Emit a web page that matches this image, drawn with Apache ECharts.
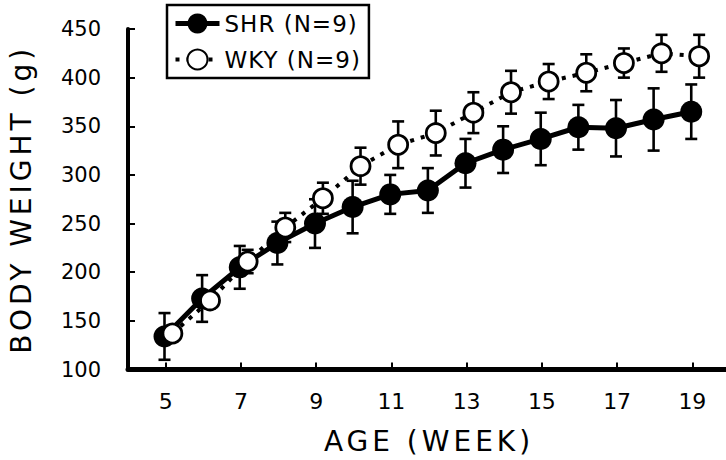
<!DOCTYPE html>
<html><head><meta charset="utf-8">
<script src="https://cdn.jsdelivr.net/npm/echarts@6/dist/echarts.min.js"></script>
<style>html,body{margin:0;padding:0;background:#fff}#c{width:726px;height:460px}</style>
</head><body><div id="c"></div>
<script>
// ---- data ----
const weeks   = [5,6,7,8,9,10,11,12,13,14,15,16,17,18,19];
const shrMean = [134,173,205,230,250,267,280,284,312,326,337,349,348,357,365];
const shrSD   = [24,24,22,22,25,27,20,23,25,24,27,23,29,32,28];
const wkyMean = [137,171,211,246,276,309,331,343,364,385,396,405,415,425,422];
const wkySD   = [8,8,12,15,16,19,24,23,21,22,18,19,15,19,22];
const xTicks  = [5,7,9,11,13,15,17,19];
const shrName = 'SHR (N=9)';
const wkyName = 'WKY (N=9)';

// ---- style constants ----
const FONT = 'DejaVu Sans';
const shrDodge = -0.03, wkyDodge = 0.18;

function pts(mean, dodge){ return weeks.map((w,i)=>[w+dodge, mean[i]]); }
function errs(mean, sd, dodge){ return weeks.map((w,i)=>[w+dodge, mean[i]-sd[i], mean[i]+sd[i]]); }

function errRender(params, api){
  const x = api.value(0), lo = api.value(1), hi = api.value(2);
  const pLo = api.coord([x, lo]), pHi = api.coord([x, hi]);
  const cw = 6;
  const style = {stroke:'#000', lineWidth:2.6, fill:null};
  return {type:'group', children:[
    {type:'line', shape:{x1:pLo[0],y1:pLo[1],x2:pHi[0],y2:pHi[1]}, style},
    {type:'line', shape:{x1:pLo[0]-cw,y1:pLo[1],x2:pLo[0]+cw,y2:pLo[1]}, style},
    {type:'line', shape:{x1:pHi[0]-cw,y1:pHi[1],x2:pHi[0]+cw,y2:pHi[1]}, style}
  ]};
}

const chart = echarts.init(document.getElementById('c'), null, {renderer:'svg'});
chart.setOption({
  animation:false,
  backgroundColor:'#fff',
  grid:{left:128, right:-4, top:29, bottom:90.5, containLabel:false, outerBoundsMode:'none'},
  legend:{
    data:[
      {name:shrName, lineStyle:{width:5}},
      {name:wkyName, lineStyle:{width:4}}
    ],
    orient:'vertical', left:167, top:5,
    itemWidth:44, itemHeight:25, itemGap:13,
    padding:[7,17,7,6],
    borderColor:'#000', borderWidth:2.5,
    textStyle:{color:'#000', fontSize:23, fontFamily:FONT},
    selectedMode:false
  },
  xAxis:{
    type:'value', min:4, max:20,
    name:'AGE (WEEK)', nameLocation:'middle', nameGap:58,
    nameTextStyle:{color:'#000', fontSize:28, fontFamily:FONT},
    axisLine:{show:true, lineStyle:{color:'#000', width:5}},
    axisTick:{show:true, inside:true, length:7, lineStyle:{color:'#000', width:2}, customValues:xTicks},
    axisLabel:{color:'#000', fontSize:22, fontFamily:FONT, margin:21, customValues:xTicks},
    splitLine:{show:false}
  },
  yAxis:{
    type:'value', min:100, max:450, interval:50,
    name:'BODY WEIGHT (g)', nameLocation:'middle', nameGap:93, nameRotate:90,
    nameTextStyle:{color:'#000', fontSize:28, fontFamily:FONT},
    axisLine:{show:true, lineStyle:{color:'#000', width:4}},
    axisTick:{show:true, inside:true, length:7, lineStyle:{color:'#000', width:2}},
    axisLabel:{color:'#000', fontSize:21, fontFamily:FONT, margin:27},
    splitLine:{show:false}
  },
  series:[
    {type:'custom', name:'shrErr', renderItem:errRender, data:errs(shrMean, shrSD, shrDodge),
     encode:{x:0, y:[1,2]}, z:1, silent:true},
    {type:'line', name:shrName, data:pts(shrMean, shrDodge), z:2,
     symbol:'circle', symbolSize:22, showSymbol:true,
     lineStyle:{color:'#000', width:5},
     itemStyle:{color:'#000', borderColor:'#000', borderWidth:0}},
    {type:'custom', name:'wkyErr', renderItem:errRender, data:errs(wkyMean, wkySD, wkyDodge),
     encode:{x:0, y:[1,2]}, z:3, silent:true},
    {type:'line', name:wkyName, data:pts(wkyMean, wkyDodge), z:4,
     symbol:'circle', symbolSize:19, showSymbol:true,
     lineStyle:{color:'#000', width:4, type:[4,7], cap:'butt'},
     itemStyle:{color:'#fff', borderColor:'#000', borderWidth:2.8}}
  ]
});

function spaceTexts(){
  document.querySelectorAll('#c svg text').forEach(t=>{
    const s = t.textContent;
    if (s === 'AGE (WEEK)' || s === 'BODY WEIGHT (g)') t.setAttribute('letter-spacing','4');
    else if (s === shrName || s === wkyName) t.setAttribute('letter-spacing','1');
  });
}
chart.on('finished', spaceTexts);
spaceTexts();
setTimeout(spaceTexts, 50);
</script>
</body></html>
